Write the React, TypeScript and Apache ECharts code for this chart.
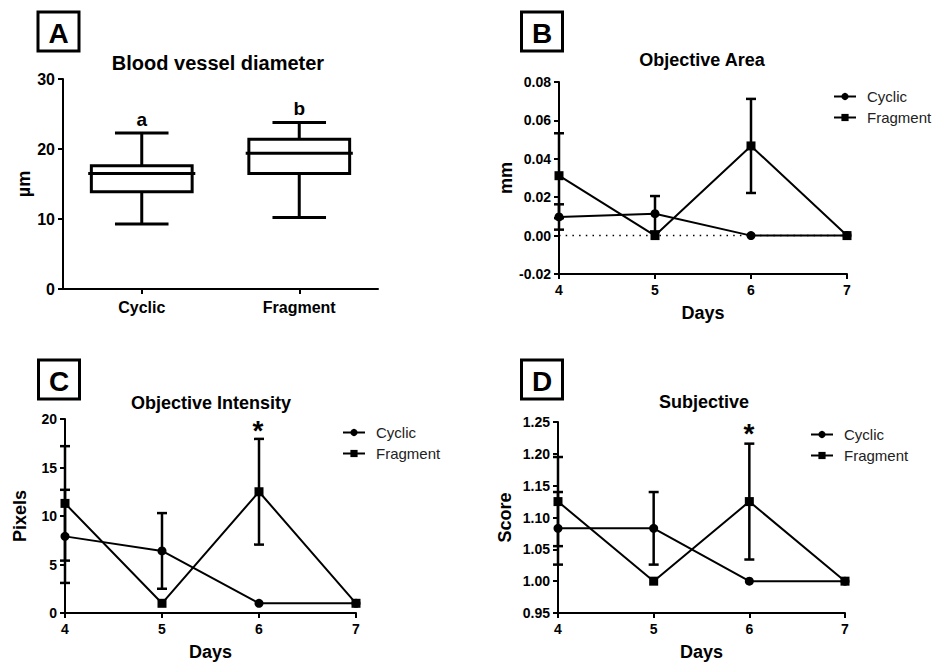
import React, { useEffect, useRef } from "react";
import * as echarts from "echarts";

// ---- Panel A: box plot (min, Q1, median, Q3, max) ----
const boxCategories = ["Cyclic", "Fragment"];
const boxCyclic = [9.3, 13.9, 16.5, 17.6, 22.3];
const boxFragment = [10.2, 16.5, 19.4, 21.4, 23.8];
const boxLetters = ["a", "b"];
const boxRange = [0, 30, 10];

// ---- Panels B-D: days ----
const days = [4, 5, 6, 7];

const areaCyclic = [0.0097, 0.0114, 0, 0];
const areaCyclicErr = [0.0066, 0.0092, 0, 0];
const areaFragment = [0.0312, 0, 0.0467, 0];
const areaFragmentErr = [0.0221, 0, 0.0245, 0];
const areaRange = [-0.02, 0.08, 0.02];
const areaBaseline = 0;

const intensityCyclic = [7.9, 6.4, 1, 1];
const intensityCyclicErr = [4.8, 3.9, 0, 0];
const intensityFragment = [11.3, 1, 12.5, 1];
const intensityFragmentErr = [5.9, 0, 5.45, 0];
const intensityRange = [0, 20, 5];

const scoreCyclic = [1.083, 1.083, 1, 1];
const scoreCyclicErr = [0.057, 0.057, 0, 0];
const scoreFragment = [1.125, 1, 1.125, 1];
const scoreFragmentErr = [0.07, 0, 0.091, 0];
const scoreRange = [0.95, 1.25, 0.05];

const seriesNames = ["Cyclic", "Fragment"];

const FONT = "'Liberation Sans', Arial, Helvetica, sans-serif";

export default function App() {
  const ref = useRef<HTMLDivElement>(null);

  useEffect(() => {
    if (!ref.current) return;
    const chart = echarts.init(ref.current, null, { renderer: "svg" });

    const grids = [
      { left: 63, top: 79, width: 315, height: 210 },
      { left: 559, top: 82, width: 288, height: 192 },
      { left: 65, top: 419, width: 291, height: 194 },
      { left: 558, top: 422, width: 287, height: 191 },
    ].map((g) => ({ ...g, outerBoundsMode: "none", containLabel: false }));

    const axisLine = { show: true, onZero: false, lineStyle: { color: "#000", width: 2 } };
    const axisTick = { show: true, inside: false, length: 5, lineStyle: { color: "#000", width: 2 } };
    const nameStyle = { fontFamily: FONT, fontWeight: "bold", fontSize: 18, color: "#000" };

    const dayAxis = (gridIndex: number) => ({
      type: "value",
      gridIndex,
      min: days[0],
      max: days[days.length - 1],
      interval: 1,
      axisLine,
      axisTick,
      splitLine: { show: false },
      axisLabel: { fontFamily: FONT, fontWeight: "bold", fontSize: 14, color: "#000", margin: 9 },
      name: "Days",
      nameLocation: "middle",
      nameGap: 30,
      nameTextStyle: nameStyle,
    });

    const valAxis = (gridIndex: number, range: number[], name: string, gap: number, dec: number, fs: number) => ({
      type: "value",
      gridIndex,
      min: range[0],
      max: range[1],
      interval: range[2],
      axisLine,
      axisTick,
      splitLine: { show: false },
      axisLabel: {
        fontFamily: FONT,
        fontWeight: "bold",
        fontSize: fs,
        color: "#000",
        margin: 8,
        formatter: (v: number) => v.toFixed(dec),
      },
      name,
      nameLocation: "middle",
      nameGap: gap,
      nameTextStyle: nameStyle,
    });

    const xAxis = [
      {
        type: "category",
        gridIndex: 0,
        data: boxCategories,
        axisLine,
        axisTick: { ...axisTick, alignWithLabel: true },
        axisLabel: { fontFamily: FONT, fontWeight: "bold", fontSize: 16, color: "#000", margin: 10 },
      },
      dayAxis(1),
      dayAxis(2),
      dayAxis(3),
    ];
    const yAxis = [
      valAxis(0, boxRange, "µm", 30, 0, 16),
      valAxis(1, areaRange, "mm", 42, 2, 14),
      valAxis(2, intensityRange, "Pixels", 36, 0, 14),
      valAxis(3, scoreRange, "Score", 44, 2, 14),
    ];

    const lineSeries = (name: string, values: number[], idx: number) => ({
      type: "line",
      name,
      xAxisIndex: idx,
      yAxisIndex: idx,
      data: days.map((d, i) => [d, values[i]]),
      symbol: name === "Cyclic" ? "circle" : "rect",
      symbolSize: 9,
      showSymbol: true,
      lineStyle: { color: "#000", width: 2 },
      itemStyle: { color: "#000" },
      z: 3,
    });

    const errSeries = (name: string, values: number[], errs: number[], idx: number) => ({
      type: "custom",
      name: name + " error",
      xAxisIndex: idx,
      yAxisIndex: idx,
      z: 2,
      data: days
        .map((d, i) => [d, values[i] - errs[i], values[i] + errs[i]])
        .filter((_, i) => errs[i] > 0),
      encode: { x: 0, y: [1, 2] },
      renderItem: (params: any, api: any) => {
        const x = api.value(0);
        const lo = api.coord([x, api.value(1)]);
        const hi = api.coord([x, api.value(2)]);
        const hw = 5;
        const st = { stroke: "#000", lineWidth: 2.5 };
        return {
          type: "group",
          children: [
            { type: "line", shape: { x1: hi[0], y1: hi[1], x2: lo[0], y2: lo[1] }, style: st },
            { type: "line", shape: { x1: hi[0] - hw, y1: hi[1], x2: hi[0] + hw, y2: hi[1] }, style: st },
            { type: "line", shape: { x1: lo[0] - hw, y1: lo[1], x2: lo[0] + hw, y2: lo[1] }, style: st },
          ],
        };
      },
    });

    const boxSeries = {
      type: "custom",
      name: "box",
      xAxisIndex: 0,
      yAxisIndex: 0,
      data: [
        [0, ...boxCyclic],
        [1, ...boxFragment],
      ],
      encode: { x: 0, y: [1, 2, 3, 4, 5] },
      renderItem: (params: any, api: any) => {
        const cat = api.value(0);
        const mn = api.value(1), q1 = api.value(2), md = api.value(3), q3 = api.value(4), mx = api.value(5);
        const band = api.size([1, 0])[0];
        const cx = api.coord([cat, md])[0];
        const y = (v: number) => api.coord([cat, v])[1];
        const bw = band * 0.32, cw = band * 0.17, mw = band * 0.34;
        const st = { stroke: "#000", lineWidth: 3 };
        return {
          type: "group",
          children: [
            { type: "line", shape: { x1: cx, y1: y(q3), x2: cx, y2: y(mx) }, style: st },
            { type: "line", shape: { x1: cx - cw, y1: y(mx), x2: cx + cw, y2: y(mx) }, style: st },
            { type: "line", shape: { x1: cx, y1: y(q1), x2: cx, y2: y(mn) }, style: st },
            { type: "line", shape: { x1: cx - cw, y1: y(mn), x2: cx + cw, y2: y(mn) }, style: st },
            {
              type: "rect",
              shape: { x: cx - bw, y: y(q3), width: 2 * bw, height: y(q1) - y(q3) },
              style: { stroke: "#000", lineWidth: 3, fill: "#fff" },
            },
            { type: "line", shape: { x1: cx - mw, y1: y(md), x2: cx + mw, y2: y(md) }, style: st },
            {
              type: "text",
              style: {
                text: boxLetters[cat],
                x: cx,
                y: y(mx) - 4,
                textAlign: "center",
                textVerticalAlign: "bottom",
                font: `bold 19px ${FONT}`,
                fill: "#000",
              },
            },
          ],
        };
      },
    };

    // dotted reference line at y = 0 in panel B
    const zeroLine = {
      type: "custom",
      name: "zero",
      xAxisIndex: 1,
      yAxisIndex: 1,
      silent: true,
      z: 1,
      data: [[days[0], days[days.length - 1], areaBaseline]],
      encode: { x: [0, 1], y: 2 },
      renderItem: (params: any, api: any) => {
        const a = api.coord([api.value(0), api.value(2)]);
        const b = api.coord([api.value(1), api.value(2)]);
        return {
          type: "line",
          shape: { x1: a[0], y1: a[1], x2: b[0], y2: b[1] },
          style: { stroke: "#000", lineWidth: 1.5, lineDash: [1.5, 5.2] },
        };
      },
    };

    const series: any[] = [
      boxSeries,
      zeroLine,
      errSeries("Cyclic", areaCyclic, areaCyclicErr, 1),
      errSeries("Fragment", areaFragment, areaFragmentErr, 1),
      lineSeries("Cyclic", areaCyclic, 1),
      lineSeries("Fragment", areaFragment, 1),
      errSeries("Cyclic", intensityCyclic, intensityCyclicErr, 2),
      errSeries("Fragment", intensityFragment, intensityFragmentErr, 2),
      lineSeries("Cyclic", intensityCyclic, 2),
      lineSeries("Fragment", intensityFragment, 2),
      errSeries("Cyclic", scoreCyclic, scoreCyclicErr, 3),
      errSeries("Fragment", scoreFragment, scoreFragmentErr, 3),
      lineSeries("Cyclic", scoreCyclic, 3),
      lineSeries("Fragment", scoreFragment, 3),
    ];

    const legend = (left: number, top: number) => ({
      data: seriesNames,
      orient: "vertical",
      left,
      top,
      padding: 0,
      itemWidth: 22,
      itemHeight: 9,
      itemGap: 6,
      selectedMode: false,
      textStyle: { fontFamily: FONT, fontSize: 15, color: "#222", lineHeight: 15, padding: [0, 0, 0, 6] },
    });

    const titleText = (text: string, x: number, y: number, size: number) => ({
      type: "text",
      x,
      y,
      style: {
        text,
        textAlign: "center",
        textVerticalAlign: "middle",
        font: `bold ${size}px ${FONT}`,
        fill: "#000",
      },
    });

    const panelLabel = (letter: string, x: number, y: number) => ({
      type: "group",
      children: [
        {
          type: "rect",
          shape: { x, y, width: 41, height: 39 },
          style: { stroke: "#000", lineWidth: 3, fill: "none" },
        },
        {
          type: "text",
          x: x + 20.5,
          y: y + 21,
          style: {
            text: letter,
            textAlign: "center",
            textVerticalAlign: "middle",
            font: `bold 28px ${FONT}`,
            fill: "#000",
          },
        },
      ],
    });

    chart.setOption({
      animation: false,
      backgroundColor: "#fff",
      textStyle: { fontFamily: FONT },
      grid: grids,
      xAxis,
      yAxis,
      series,
      legend: [legend(833, 89), legend(342, 425), legend(810, 427)],
      graphic: [
        panelLabel("A", 38, 12),
        panelLabel("B", 521.5, 12),
        panelLabel("C", 38.5, 360),
        panelLabel("D", 521.5, 360),
        titleText("Blood vessel diameter", 218, 63, 20),
        titleText("Objective Area", 702, 60, 18),
        titleText("Objective Intensity", 211, 403, 18),
        titleText("Subjective", 704, 402, 18),
        titleText("*", 258, 430, 28),
        titleText("*", 749, 433, 28),
      ],
    });

    return () => chart.dispose();
  }, []);

  return (
    <div
      ref={ref}
      style={{ position: "absolute", left: 0, top: 0, width: 936, height: 664, background: "#fff" }}
    />
  );
}
